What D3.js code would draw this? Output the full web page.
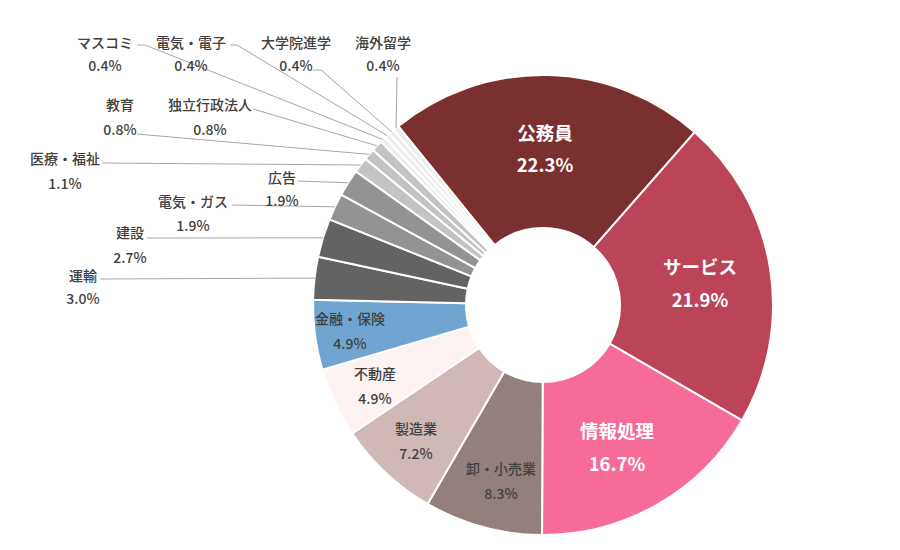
<!DOCTYPE html>
<html>
<head>
<meta charset="utf-8">
<script src="https://cdn.jsdelivr.net/npm/d3@7"></script>
<style>
  body { margin: 0; background: #fff; }
  svg { display: block; font-family: "Noto Sans CJK JP", "Noto Sans", sans-serif; }
</style>
</head>
<body>
<svg id="chart" width="900" height="550"></svg>
<script>
// 進路別の割合 (%)
const categories = ['公務員', 'サービス', '情報処理', '卸・小売業', '製造業', '不動産', '金融・保険',
  '運輸', '建設', '電気・ガス', '広告', '医療・福祉', '教育', '独立行政法人',
  'マスコミ', '電気・電子', '大学院進学', '海外留学'];
const shares = [22.3, 21.9, 16.7, 8.3, 7.2, 4.9, 4.9, 3.0, 2.7, 1.9, 1.9, 1.1, 0.8, 0.8, 0.4, 0.4, 0.4, 0.4];
const sliceColors = ['#7B3030', '#BB4459', '#F66B98', '#937F7C', '#D0B8B7', '#FDF3F2', '#6FA5D0',
  '#636363', '#636363', '#939393', '#939393', '#C3C3C3', '#C3C3C3', '#C3C3C3',
  '#EDEDED', '#EDEDED', '#EDEDED', '#EDEDED'];

// label placement (Excel-style)
// big: white labels inside the slice; lead: leader line start points
const labelLayout = {
  '公務員':     { x: 545, y: 132, gap: 32, big: true },
  'サービス':   { x: 700, y: 266, gap: 33, big: true },
  '情報処理':   { x: 617, y: 430, gap: 33, big: true },
  '卸・小売業': { x: 501, y: 468, gap: 25 },
  '製造業':     { x: 416, y: 428, gap: 25 },
  '不動産':     { x: 375, y: 373, gap: 25 },
  '金融・保険': { x: 350, y: 318, gap: 25 },
  '運輸':       { x: 83,  y: 275, gap: 23, lead: [[100, 279]] },
  '建設':       { x: 130, y: 232, gap: 25, lead: [[147, 238]] },
  '電気・ガス': { x: 193, y: 201, gap: 24, lead: [[232, 205]] },
  '広告':       { x: 282, y: 177, gap: 23, lead: [[298, 181]] },
  '医療・福祉': { x: 65,  y: 158, gap: 25, lead: [[102, 163]] },
  '教育':       { x: 120, y: 104, gap: 25, lead: [[137, 134]] },
  '独立行政法人': { x: 210, y: 104, gap: 25, lead: [[253, 109]] },
  'マスコミ':   { x: 105, y: 42, gap: 23, lead: [[137, 45], [145, 45]] },
  '電気・電子': { x: 191, y: 42, gap: 23, lead: [[230, 45], [237, 45]] },
  '大学院進学': { x: 296, y: 42, gap: 23, lead: [[313, 70], [321, 70]] },
  '海外留学':   { x: 383, y: 42, gap: 23, lead: [[397, 77]] }
};

const data = categories.map((c, i) => ({ name: c, value: shares[i], color: sliceColors[i] }));

const svg = d3.select('#chart');
const cx = 543, cy = 305;
const outerR = 230, innerR = 77;
const firstSliceAngle = 321; // degrees, clockwise from 12 o'clock

const pie = d3.pie()
  .sort(null)
  .value(d => d.value)
  .startAngle((firstSliceAngle - 360) * Math.PI / 180)
  .endAngle(firstSliceAngle * Math.PI / 180);

const arc = d3.arc().innerRadius(innerR).outerRadius(outerR);
const arcs = pie(data);

const g = svg.append('g').attr('transform', `translate(${cx},${cy})`);

g.selectAll('path.slice')
  .data(arcs)
  .enter()
  .append('path')
  .attr('class', 'slice')
  .attr('d', arc)
  .attr('fill', d => d.data.color)
  .attr('stroke', '#fff')
  .attr('stroke-width', 2);

// Leader lines
const line = d3.line();
arcs.forEach(d => {
  const lay = labelLayout[d.data.name];
  if (!lay.lead) return;
  const mid = (d.startAngle + d.endAngle) / 2;
  const end = [cx + outerR * Math.sin(mid), cy - outerR * Math.cos(mid)];
  svg.append('path')
    .attr('d', line([...lay.lead, end]))
    .attr('fill', 'none')
    .attr('stroke', '#A6A6A6')
    .attr('stroke-width', 1);
});

// Labels
arcs.forEach(d => {
  const lay = labelLayout[d.data.name];
  const t = svg.append('g')
    .attr('text-anchor', 'middle')
    .style('fill', lay.big ? '#fff' : '#404040')
    .style('font-size', lay.big ? '18.5px' : '14px')
    .style('font-weight', lay.big ? 'bold' : '500');
  t.append('text')
    .attr('x', lay.x).attr('y', lay.y)
    .attr('dominant-baseline', 'central')
    .text(d.data.name);
  t.append('text')
    .attr('x', lay.x).attr('y', lay.y + lay.gap)
    .attr('dominant-baseline', 'central')
    .text(d.data.value.toFixed(1) + '%');
});
</script>
</body>
</html>
